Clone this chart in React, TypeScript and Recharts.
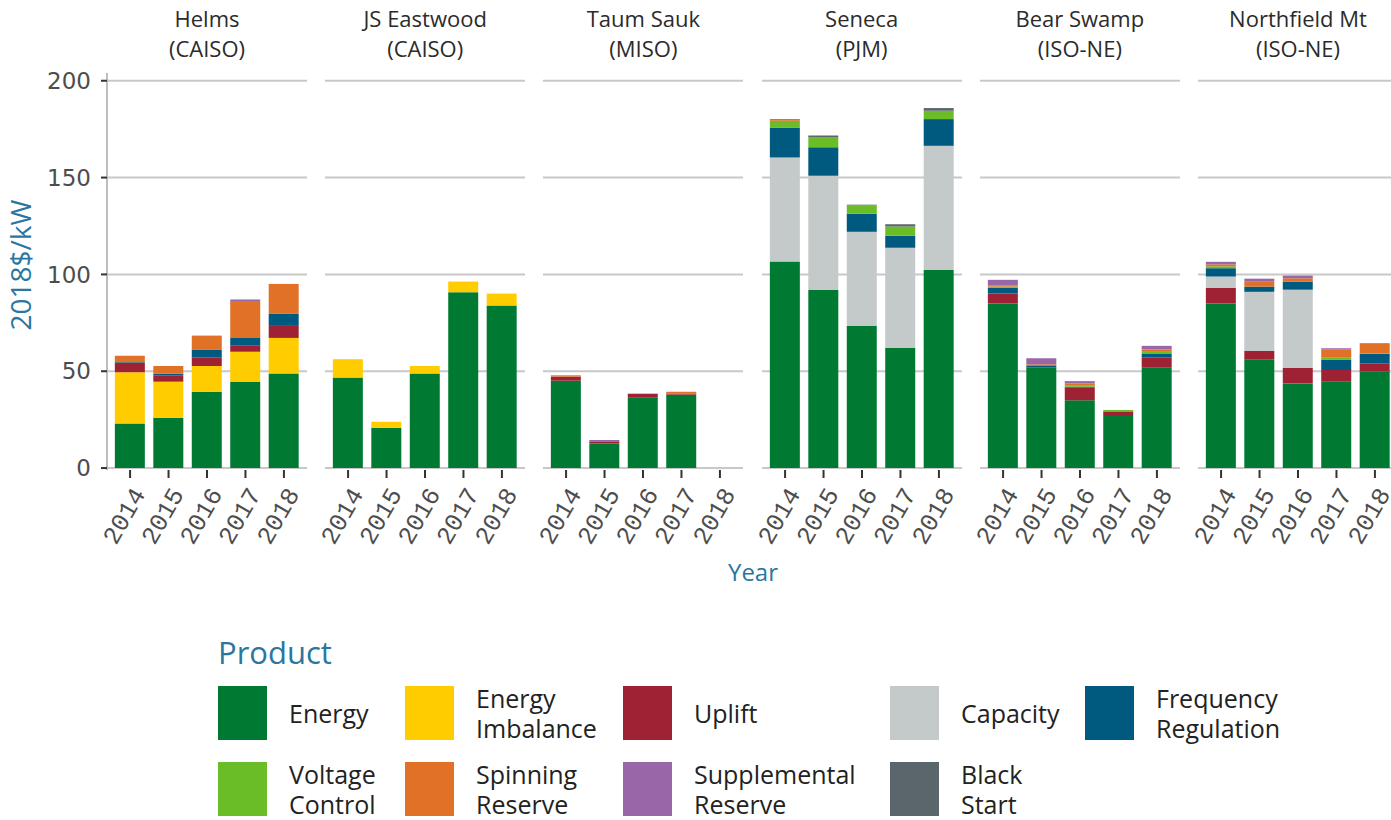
import React from "react";
import { BarChart, Bar, XAxis, YAxis, CartesianGrid } from "recharts";

const years = ["2014", "2015", "2016", "2017", "2018"];
const plants = ["Helms", "JS Eastwood", "Taum Sauk", "Seneca", "Bear Swamp", "Northfield Mt"];
const isos = ["CAISO", "CAISO", "MISO", "PJM", "ISO-NE", "ISO-NE"];

// one row per plant, one value per year (2018$/kW)
const energy = [
  [23, 26, 39.4, 44.4, 48.8],
  [46.7, 20.8, 48.8, 90.8, 83.9],
  [45.1, 12.7, 36.3, 37.9, 0],
  [106.6, 92, 73.4, 62, 102.3],
  [84.9, 52, 35, 26.9, 51.8],
  [84.9, 56, 43.6, 44.6, 49.8],
];
const energyImbalance = [
  [26.5, 18.6, 13.3, 15.6, 18.4],
  [9.5, 3.1, 3.9, 5.5, 6.2],
  [0, 0, 0, 0, 0],
  [0, 0, 0, 0, 0],
  [0, 0, 0, 0, 0],
  [0, 0, 0, 0, 0],
];
const uplift = [
  [4.7, 3.1, 4.5, 3.1, 6.2],
  [0, 0, 0, 0, 0],
  [2.1, 1.1, 2.1, 0.6, 0],
  [0, 0, 0, 0, 0],
  [5.2, 0, 6.5, 2.1, 5.4],
  [8.1, 4.5, 8.2, 6, 4.1],
];
const capacity = [
  [0, 0, 0, 0, 0],
  [0, 0, 0, 0, 0],
  [0, 0, 0, 0, 0],
  [53.8, 58.9, 48.6, 51.7, 64.1],
  [0, 0, 0, 0, 0],
  [5.9, 30.5, 40.3, 0, 0],
];
const frequencyRegulation = [
  [0.5, 1.1, 3.8, 4.1, 6.4],
  [0, 0, 0, 0, 0],
  [0, 0, 0, 0, 0],
  [15.5, 14.8, 9.3, 6.3, 13.8],
  [3.1, 0.7, 0.5, 0, 1.7],
  [4.3, 2.7, 4.2, 5.4, 5],
];
const voltageControl = [
  [0, 0, 0, 0, 0],
  [0, 0, 0, 0, 0],
  [0, 0, 0, 0, 0],
  [3.4, 5, 4.3, 4.7, 4.3],
  [0.5, 0, 0.5, 1, 1.1],
  [1, 0, 0, 1, 0.4],
];
const spinningReserve = [
  [3.3, 3.9, 7.4, 19.1, 15.3],
  [0, 0, 0, 0, 0],
  [0.7, 0, 0, 0.9, 0],
  [0.9, 0, 0, 0, 0],
  [0.5, 0.9, 1.2, 0, 1.2],
  [1, 2.8, 1.7, 4.3, 5.2],
];
const supplementalReserve = [
  [0, 0, 0, 0.7, 0],
  [0, 0, 0, 0, 0],
  [0, 0.7, 0, 0, 0],
  [0, 0, 0, 0, 0],
  [3, 3.1, 1.2, 0, 1.9],
  [1.3, 1.3, 1.4, 0.6, 0],
];
const blackStart = [
  [0, 0, 0, 0, 0],
  [0, 0, 0, 0, 0],
  [0, 0, 0, 0, 0],
  [0, 1, 0.4, 1.2, 1.4],
  [0, 0, 0, 0, 0],
  [0, 0, 0, 0, 0],
];

const yTicks = [0, 50, 100, 150, 200];

const products = [
  { key: "Energy", label: "Energy", color: "#007a33", values: energy },
  { key: "Energy Imbalance", label: "Energy\nImbalance", color: "#ffcc00", values: energyImbalance },
  { key: "Uplift", label: "Uplift", color: "#9e2233", values: uplift },
  { key: "Capacity", label: "Capacity", color: "#c4c9c9", values: capacity },
  { key: "Frequency Regulation", label: "Frequency\nRegulation", color: "#005a80", values: frequencyRegulation },
  { key: "Voltage Control", label: "Voltage\nControl", color: "#6bbd27", values: voltageControl },
  { key: "Spinning Reserve", label: "Spinning\nReserve", color: "#e07126", values: spinningReserve },
  { key: "Supplemental Reserve", label: "Supplemental\nReserve", color: "#9966a8", values: supplementalReserve },
  { key: "Black Start", label: "Black\nStart", color: "#5b666c", values: blackStart },
];

const BLUE = "#2a76a0";
const PANEL_LEFT = 107;
const PANEL_STEP = 218.2;
const PANEL_W = 200;
const CHART_H = 570;

const legendCols = [218, 405, 623, 890, 1085];
const legendRows = [686, 762];

const YearTick = (props: any) => {
  const { x, y, payload } = props;
  const ax = x + 16;
  const ay = y + 16;
  return (
    <text
      x={ax}
      y={ay}
      transform={`rotate(-60 ${ax} ${ay})`}
      textAnchor="end"
      fontFamily="'Liberation Mono', monospace"
      fontSize={25}
      fill="#4d4d4d"
    >
      {payload.value}
    </text>
  );
};

// grid only at the real y ticks, through the axis scale
const gridAtTicks = (props: any) => {
  const scale = props?.yAxis?.scale;
  if (scale && typeof scale === "function") return yTicks.map((t) => scale(t));
  if (scale && typeof scale.map === "function") return yTicks.map((t) => scale.map(t));
  return [];
};

function Panel({ index }: { index: number }) {
  const first = index === 0;
  const data = years.map((year, j) => {
    const row: Record<string, string | number> = { year };
    products.forEach((p) => {
      row[p.key] = p.values[index][j];
    });
    return row;
  });
  const left = first ? 0 : PANEL_LEFT + PANEL_STEP * index;
  const width = first ? PANEL_LEFT + PANEL_W : PANEL_W;

  return (
    <div style={{ position: "absolute", left, top: 0 }}>
      <BarChart
        width={width}
        height={CHART_H}
        data={data}
        margin={{ top: 73, right: 0, bottom: 40, left: 0 }}
      >
        <CartesianGrid
          vertical={false}
          stroke="#c8c8c8"
          strokeWidth={2}
          horizontalCoordinatesGenerator={gridAtTicks}
        />
        <XAxis
          dataKey="year"
          height={60}
          padding={{ left: 3.85, right: 3.85 }}
          axisLine={false}
          tickLine={{ stroke: "#333", strokeWidth: 2 }}
          tickSize={8}
          tickMargin={0}
          interval={0}
          tick={<YearTick />}
        />
        <YAxis
          hide={!first}
          width={PANEL_LEFT}
          domain={[-1, 204]}
          ticks={yTicks}
          allowDataOverflow
          axisLine={{ stroke: "#bdbdbd", strokeWidth: 2 }}
          tickLine={{ stroke: "#333", strokeWidth: 2 }}
          tickSize={6}
          tickMargin={10}
          tick={{ fill: "#4d4d4d", fontSize: 23, fontFamily: "'DejaVu Sans', sans-serif" }}
        />
        {products.map((p) => (
          <Bar
            key={p.key}
            dataKey={p.key}
            stackId="a"
            fill={p.color}
            barSize={30}
            isAnimationActive={false}
          />
        ))}
      </BarChart>
    </div>
  );
}

export default function App() {
  return (
    <div
      style={{
        position: "fixed",
        left: 0,
        top: 0,
        width: 1391,
        height: 820,
        overflow: "hidden",
        background: "#fff",
        fontFamily: "'Open Sans', sans-serif",
      }}
    >
      <style>{".recharts-surface { overflow: visible; }"}</style>

      {plants.map((name, i) => (
        <div
          key={name}
          style={{
            position: "absolute",
            left: PANEL_LEFT + PANEL_STEP * i,
            top: 3,
            width: PANEL_W,
            textAlign: "center",
            fontSize: 22,
            lineHeight: "30px",
            color: "#2b2b2b",
          }}
        >
          {name}
          <br />({isos[i]})
        </div>
      ))}

      {plants.map((name, i) => (
        <Panel key={name} index={i} />
      ))}

      <div
        style={{
          position: "absolute",
          left: 20,
          top: 265,
          transform: "translate(-50%, -50%) rotate(-90deg)",
          whiteSpace: "nowrap",
          fontSize: 28,
          color: BLUE,
        }}
      >
        2018$/kW
      </div>

      <div
        style={{
          position: "absolute",
          left: 753,
          top: 571,
          transform: "translate(-50%, -50%)",
          fontSize: 24,
          color: BLUE,
        }}
      >
        Year
      </div>

      <div
        style={{
          position: "absolute",
          left: 218,
          top: 652,
          transform: "translateY(-50%)",
          fontSize: 31,
          color: BLUE,
        }}
      >
        Product
      </div>

      {products.map((p, i) => {
        const col = i < 5 ? i : i - 5;
        const row = i < 5 ? 0 : 1;
        const x = legendCols[col];
        const y = legendRows[row];
        return (
          <div key={p.key}>
            <div
              style={{
                position: "absolute",
                left: x,
                top: y,
                width: 49,
                height: 54,
                background: p.color,
              }}
            />
            <div
              style={{
                position: "absolute",
                left: x + 71,
                top: y + 27,
                transform: "translateY(-50%)",
                fontSize: 25,
                lineHeight: "30px",
                color: "#222",
                whiteSpace: "pre",
              }}
            >
              {p.label}
            </div>
          </div>
        );
      })}
    </div>
  );
}
